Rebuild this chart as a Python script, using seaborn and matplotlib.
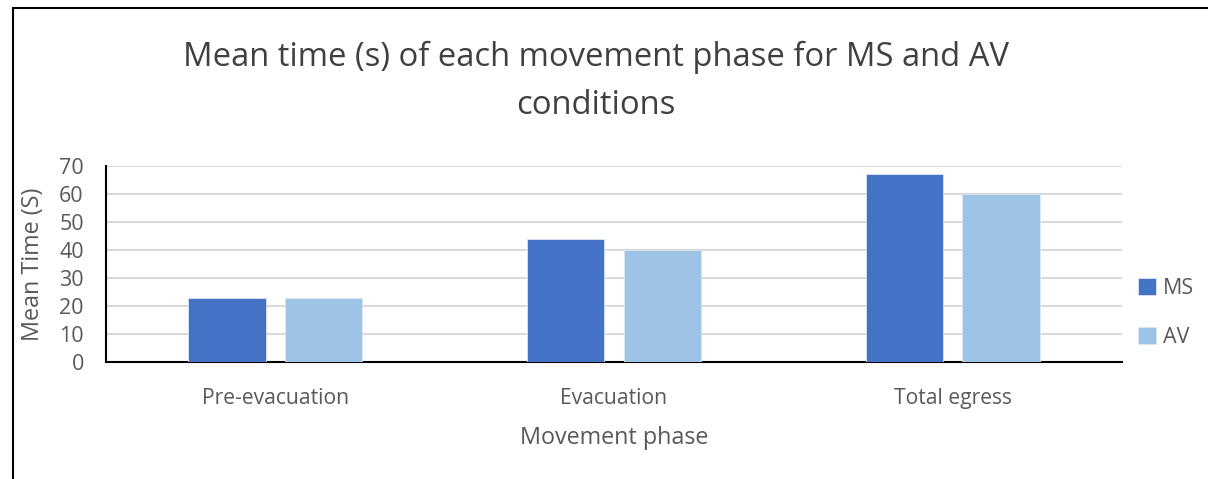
import matplotlib
matplotlib.use("Agg")
import matplotlib.pyplot as plt
import seaborn as sns
import pandas as pd
from matplotlib.lines import Line2D

phases = ["Pre-evacuation", "Evacuation", "Total egress"]
conditions = ["MS", "AV"]
ms_values = [23, 44, 67]
av_values = [23, 40, 60]
y_ticks = [0, 10, 20, 30, 40, 50, 60, 70]

df = pd.DataFrame({
    "phase": phases * 2,
    "condition": ["MS"] * 3 + ["AV"] * 3,
    "value": ms_values + av_values,
})

sns.set_theme(style="white")
plt.rcParams["font.family"] = ["Open Sans", "DejaVu Sans"]

W, H = 1208, 479
fig = plt.figure(figsize=(W / 100, H / 100), dpi=100)
ax = fig.add_axes([106 / W, 1 - 362 / H, (1122 - 106) / W, (362 - 166) / H])

palette = {"MS": "#4472C4", "AV": "#9DC3E6"}
sns.barplot(data=df, x="phase", y="value", hue="condition", order=phases,
            hue_order=conditions, palette=palette, width=0.57, gap=0.2,
            ax=ax, saturation=1, legend=True, zorder=3, linewidth=0.6,
            edgecolor="#dce6f2")

ax.set_xlim(-0.5, 2.5)
ax.set_ylim(0, 70)
ax.set_yticks(y_ticks)
ax.yaxis.grid(True, color="#d9d9d9", linewidth=1.5, zorder=0)
ax.set_axisbelow(True)
for s in ["top", "right"]:
    ax.spines[s].set_visible(False)
ax.spines["left"].set_color("black")
ax.spines["left"].set_linewidth(1.5)
ax.spines["bottom"].set_color("black")
ax.spines["bottom"].set_linewidth(1.5)

gray = "#595959"
ax.tick_params(axis="y", length=0, labelsize=15.5, labelcolor=gray, pad=16)
ax.tick_params(axis="x", length=0, labelsize=15.2, labelcolor=gray, pad=19)
ax.set_xlabel("Movement phase", fontsize=16.8, color=gray, labelpad=12)
ax.set_ylabel("Mean Time (S)", fontsize=16.8, color=gray, labelpad=10)

leg = ax.legend(loc="center left", bbox_to_anchor=(0.997, 0.25), frameon=False,
                fontsize=15.5, handlelength=0.8, handleheight=0.8,
                handletextpad=0.35, labelspacing=1.3, labelcolor=gray)

fig.text(596 / W, 1 - 81 / H,
         "Mean time (s) of each movement phase for MS and AV\nconditions",
         ha="center", va="center", fontsize=23.6, color="#404040",
         linespacing=1.6)

# outer border lines (top and left)
fig.add_artist(Line2D([13 / W, 13 / W], [0, 1 - 8 / H], transform=fig.transFigure,
                      color="black", linewidth=1.5))
fig.add_artist(Line2D([13 / W, 1], [1 - 8 / H, 1 - 8 / H], transform=fig.transFigure,
                      color="black", linewidth=1.5))

fig.savefig("out.png", dpi=100)
